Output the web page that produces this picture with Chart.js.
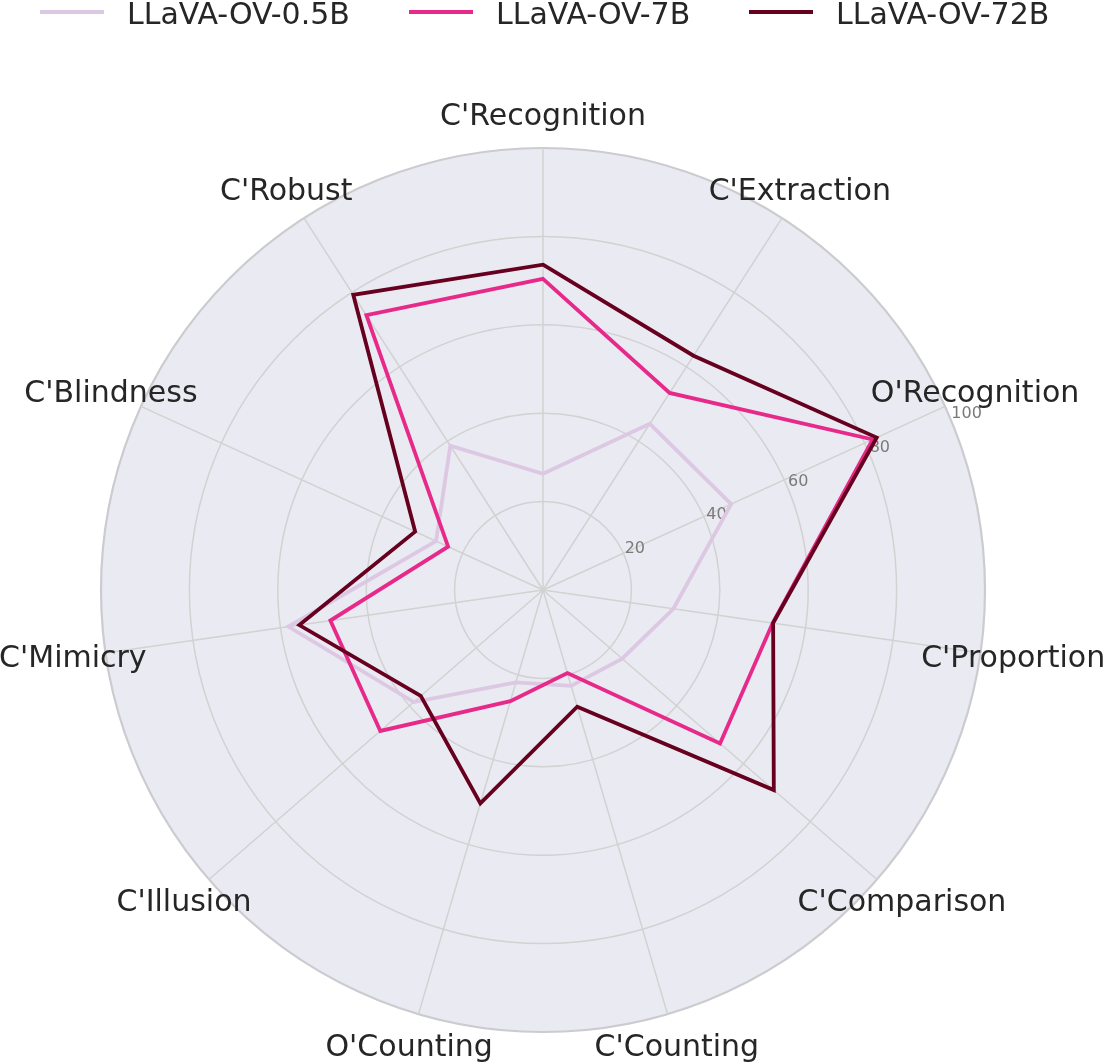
<!DOCTYPE html>
<html>
<head>
<meta charset="utf-8">
<script src="https://cdn.jsdelivr.net/npm/chart.js@4.4.0/dist/chart.umd.min.js"></script>
<style>
  html, body { margin: 0; padding: 0; background: #ffffff; }
  #wrap { width: 1104px; height: 1062px; position: relative; }
</style>
</head>
<body>
<div id="wrap"><canvas id="c" width="1104" height="1062"></canvas></div>
<script>
const categories = ["C'Recognition", "C'Extraction", "O'Recognition", "C'Proportion", "C'Comparison",
  "C'Counting", "O'Counting", "C'Illusion", "C'Mimicry", "C'Blindness", "C'Robust"];
const seriesNames = ["LLaVA-OV-0.5B", "LLaVA-OV-7B", "LLaVA-OV-72B"];
const ov05b = [26.3, 44.7, 46.8, 29.8, 23.7, 22.6, 21.8, 38.7, 58.2, 26.6, 38.8];
const ov7b  = [70.4, 53.0, 82.0, 52.5, 53.0, 19.6, 26.2, 48.7, 48.6, 23.6, 73.9];
const ov72b = [73.6, 63.0, 83.0, 52.6, 69.1, 27.5, 50.3, 36.6, 55.7, 31.8, 79.4];
const tickValues = [20, 40, 60, 80, 100];
const colors = ["#dcc8e3", "#e7298a", "#67001f"];

const TEXT = "#262626";
const FONT = "'DejaVu Sans', 'Liberation Sans', sans-serif";

const bgPlugin = {
  id: 'polarBg',
  beforeDraw(chart) {
    const s = chart.scales.r;
    const ctx = chart.ctx;
    ctx.save();
    ctx.fillStyle = '#eaeaf2';
    ctx.beginPath();
    ctx.arc(s.xCenter, s.yCenter, s.drawingArea, 0, Math.PI * 2);
    ctx.fill();
    ctx.restore();
  }
};

const tickPlugin = {
  id: 'rTicks',
  beforeDatasetsDraw(chart) {
    const s = chart.scales.r;
    const ctx = chart.ctx;
    const a = 22.5 * Math.PI / 180;
    ctx.save();
    ctx.font = "16px " + FONT;
    ctx.fillStyle = '#7a7a7a';
    ctx.textAlign = 'left';
    ctx.textBaseline = 'alphabetic';
    tickValues.forEach(v => {
      const d = s.getDistanceFromCenterForValue(v);
      const x = s.xCenter + d * Math.cos(a);
      const y = s.yCenter - d * Math.sin(a);
      ctx.fillText(String(v), x, y - 3);
    });
    ctx.restore();
  }
};

const labelPlugin = {
  id: 'labelsLegend',
  afterDraw(chart) {
    const s = chart.scales.r;
    const ctx = chart.ctx;
    ctx.save();
    ctx.font = "30px " + FONT;
    ctx.fillStyle = TEXT;
    ctx.textAlign = 'center';
    ctx.textBaseline = 'middle';
    categories.forEach((c, i) => {
      const p = s.getPointPosition(i, s.drawingArea + 33);
      ctx.fillText(c, p.x, p.y + 2);
    });
    // legend
    const lx = [40, 409, 749];
    ctx.textAlign = 'left';
    ctx.textBaseline = 'alphabetic';
    seriesNames.forEach((n, i) => {
      ctx.strokeStyle = colors[i];
      ctx.lineWidth = 4;
      ctx.lineCap = 'butt';
      ctx.beginPath();
      ctx.moveTo(lx[i], 12);
      ctx.lineTo(lx[i] + 64, 12);
      ctx.stroke();
      ctx.fillStyle = TEXT;
      ctx.fillText(n, lx[i] + 87, 24);
    });
    ctx.restore();
  }
};

const seriesData = [ov05b, ov7b, ov72b];
new Chart(document.getElementById('c'), {
  type: 'radar',
  data: {
    labels: categories,
    datasets: seriesData.map((d, i) => ({
      label: seriesNames[i],
      data: d,
      borderColor: colors[i],
      backgroundColor: colors[i],
      borderWidth: 3.8,
      borderJoinStyle: 'miter',
      fill: false,
      pointRadius: 0,
      pointHoverRadius: 0,
      tension: 0,
      order: 2 - i
    }))
  },
  options: {
    responsive: false,
    animation: false,
    devicePixelRatio: 1,
    layout: { padding: { left: 101, right: 119, top: 148, bottom: 30 } },
    plugins: { legend: { display: false }, tooltip: { enabled: false } },
    scales: {
      r: {
        min: 0,
        max: 100,
        ticks: { stepSize: 20, display: false },
        pointLabels: { display: false },
        grid: {
          circular: true,
          color: ctx => ctx.tick && ctx.tick.value === 100 ? '#cbcbd0' : '#d2d2d2',
          lineWidth: ctx => ctx.tick && ctx.tick.value === 100 ? 2.2 : 1.5
        },
        angleLines: { color: '#d2d2d2', lineWidth: 1.5 }
      }
    }
  },
  plugins: [bgPlugin, tickPlugin, labelPlugin]
});
</script>
</body>
</html>
